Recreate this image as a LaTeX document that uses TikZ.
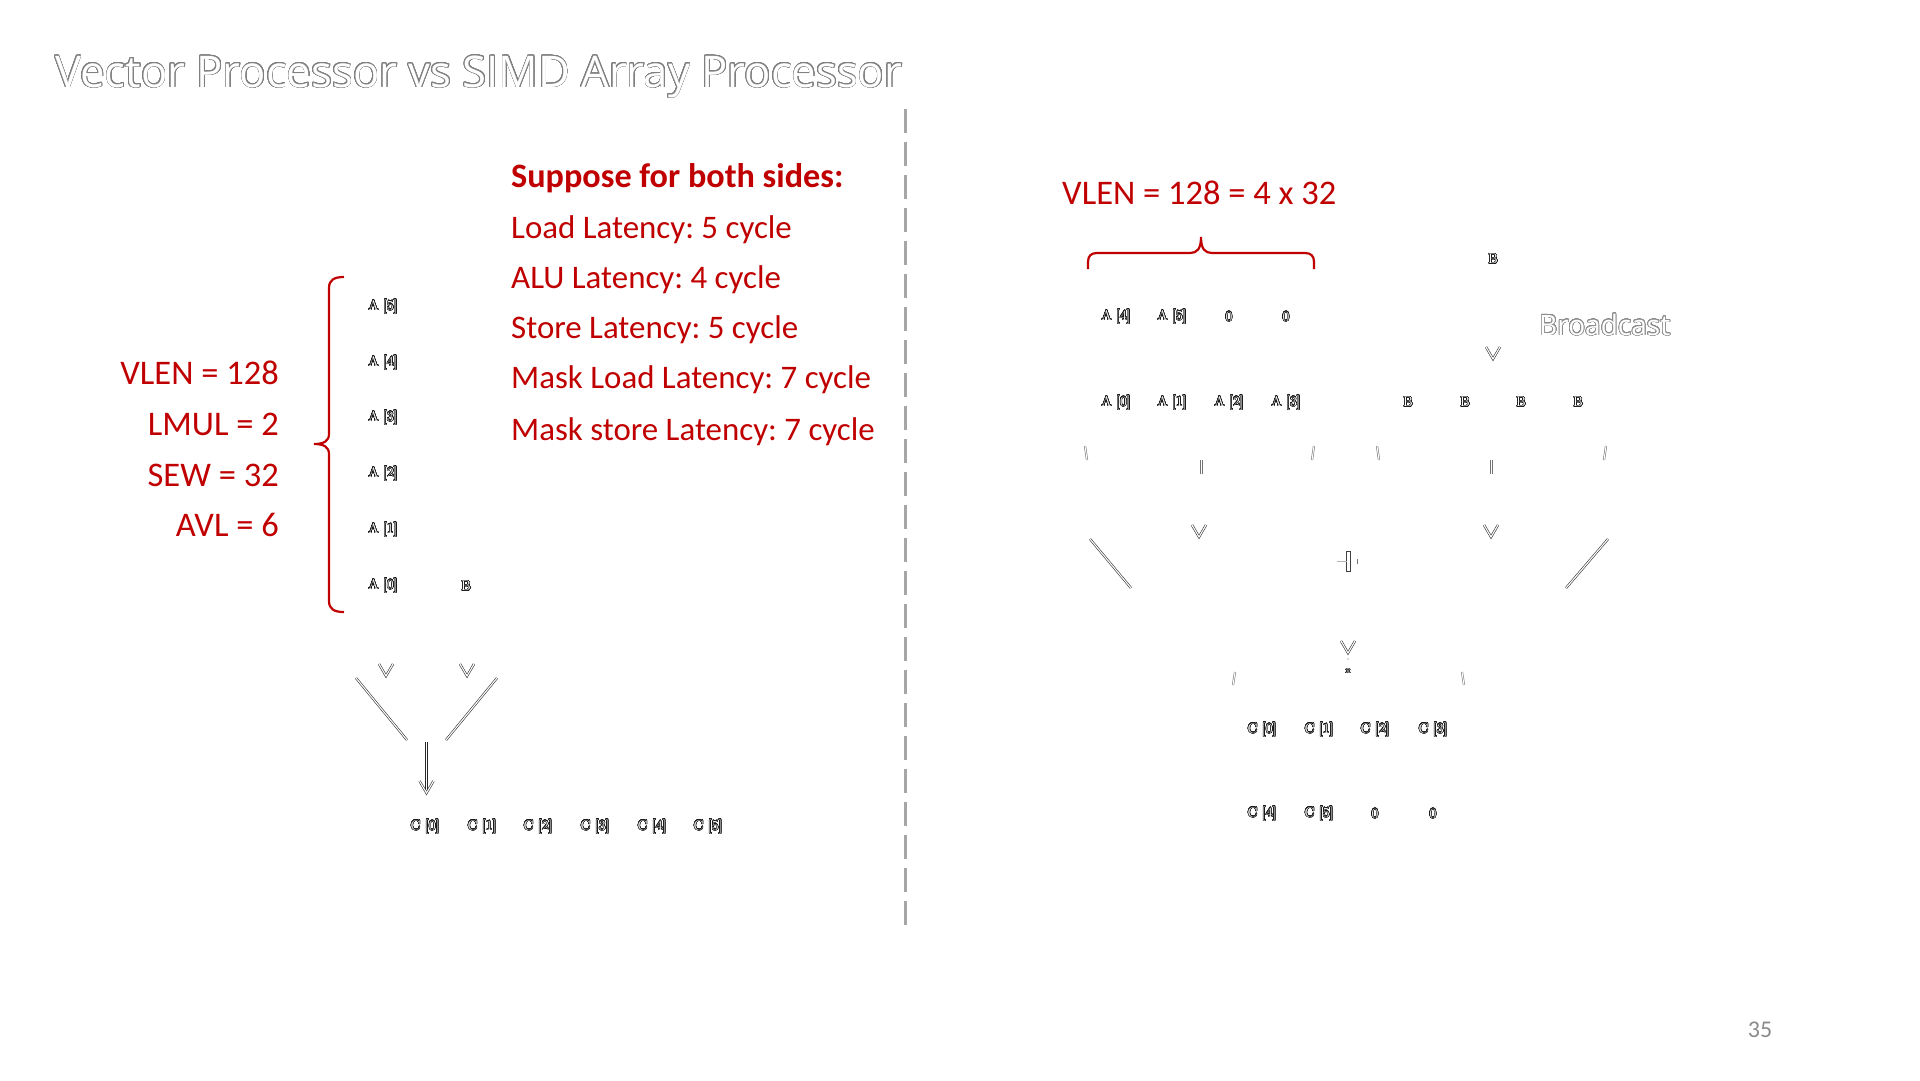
\documentclass[tikz,border=0pt]{standalone}
\usepackage{fontspec}
\usepackage{contour}
\contournumber{32}
\newfontfamily\carlito{Carlito}
\newfontfamily\osans{Open Sans}
\definecolor{dred}{HTML}{C00000}
\definecolor{dashgray}{HTML}{A6A6A6}
\definecolor{titlegray}{HTML}{808080}
\definecolor{pagegray}{HTML}{8C8C8C}
\newcommand\celltxt[1]{\contourlength{0.5pt}\contour{black!90}{#1}}
\newcommand\bigoutline[2]{\contourlength{0.75pt}\contour{#1}{#2}}
\frenchspacing
\begin{document}
\begin{tikzpicture}[x=1pt,y=-1pt,
  redt/.style={text=dred, font=\carlito\fontsize{32.9}{40}\selectfont, inner sep=0pt, anchor=base west},
  redr/.style={text=dred, font=\carlito\fontsize{34.5}{40}\selectfont, inner sep=0pt, anchor=base east},
  cell/.style={text=white, font=\fontsize{14}{16}\selectfont, inner sep=0pt},
  ol/.style={draw=black!80, double=white, double distance=1.1pt, line width=0.6pt, line join=miter},
  olg/.style={draw=black!55, double=white, double distance=1pt, line width=0.55pt},
  brace/.style={draw=dred, line width=2.2pt},
]
\useasboundingbox (0,0) rectangle (1920,1080);
\fill[white] (0,0) rectangle (1920,1080);

% title
\node[text=white, anchor=west, inner sep=0pt, font=\osans\fontsize{44}{50}\selectfont] (title) at (55,77)
  {\bigoutline{titlegray}{\resizebox{847pt}{!}{Vector Processor vs SIMD Array Processor}}};

% divider
\coordinate (dtop) at (905,109);
\coordinate (dbot) at (905,925);
\draw[draw=dashgray, line width=3pt, dash pattern=on 24pt off 9pt] (dtop) -- (dbot);

% left parameters
\node[redr] (vlen) at (279,384) {VLEN = 128};
\node[redr] (lmul) at (279,435) {LMUL = 2};
\node[redr] (sew)  at (279,486) {SEW = 32};
\node[redr] (avl)  at (279,536) {AVL = 6};

% latency list
\node[redt, font=\carlito\bfseries\fontsize{34.2}{40}\selectfont] (sup) at (511,187) {Suppose for both sides:};
\node[redt] (l1) at (511,238) {Load Latency: 5 cycle};
\node[redt] (l2) at (511,288) {ALU Latency: 4 cycle};
\node[redt] (l3) at (511,338) {Store Latency: 5 cycle};
\node[redt] (l4) at (511,388) {Mask Load Latency: 7 cycle};
\node[redt] (l5) at (511,440) {Mask store Latency: 7 cycle};

% left brace
\draw[brace] (344,277) .. controls (334,277) and (329,280) .. (329,288) -- (329,434)
  .. controls (329,441) and (324,444) .. (314,444)
  .. controls (324,444) and (329,447) .. (329,454) -- (329,601)
  .. controls (329,609) and (334,612) .. (344,612);

% left A column
\node[cell] (la5) at (383,307) {\celltxt{A [5]}};
\node[cell] (la4) at (383,363) {\celltxt{A [4]}};
\node[cell] (la3) at (383,418) {\celltxt{A [3]}};
\node[cell] (la2) at (383,474) {\celltxt{A [2]}};
\node[cell] (la1) at (383,530) {\celltxt{A [1]}};
\node[cell] (la0) at (383,586) {\celltxt{A [0]}};
\node[cell] (lb)  at (466,586) {\celltxt{B}};

% left operator residue
\draw[ol] (379,664) -- (386,676) -- (393,664);
\draw[ol] (460,664) -- (467,676) -- (474,664);
\coordinate (ld1a) at (356,678); \coordinate (ld1b) at (407,740);
\coordinate (ld2a) at (497,678); \coordinate (ld2b) at (446,740);
\draw[ol] (ld1a) -- (ld1b);
\draw[ol] (ld2a) -- (ld2b);
\coordinate (arrtop) at (426.5,742); \coordinate (arrtip) at (426.5,793);
\draw[draw=black!85, double=white, double distance=1.2pt, line width=0.8pt] (arrtop) -- (arrtip);
\draw[ol] (419.5,781) -- (arrtip) -- (433.5,781);

% left C row
\node[cell] (lc0) at (425,827) {\celltxt{C [0]}};
\node[cell] (lc1) at (482,827) {\celltxt{C [1]}};
\node[cell] (lc2) at (538,827) {\celltxt{C [2]}};
\node[cell] (lc3) at (595,827) {\celltxt{C [3]}};
\node[cell] (lc4) at (652,827) {\celltxt{C [4]}};
\node[cell] (lc5) at (708,827) {\celltxt{C [5]}};

% right side
\node[redt, font=\carlito\fontsize{34.5}{40}\selectfont] (rvlen) at (1062,204) {VLEN = 128 = 4 x 32};
\draw[brace] (1088,269) -- (1088,262) .. controls (1088,256) and (1091,253) .. (1097,253) -- (1190,253)
  .. controls (1197,253) and (1201,249) .. (1201,237)
  .. controls (1201,249) and (1205,253) .. (1212,253) -- (1305,253)
  .. controls (1311,253) and (1314,256) .. (1314,262) -- (1314,269);

\node[cell] (ra4) at (1116,317) {\celltxt{A [4]}};
\node[cell] (ra5) at (1172,317) {\celltxt{A [5]}};
\node[cell] (rz1) at (1229,317) {\celltxt{0}};
\node[cell] (rz2) at (1286,317) {\celltxt{0}};
\node[cell] (ra0) at (1116,403) {\celltxt{A [0]}};
\node[cell] (ra1) at (1172,403) {\celltxt{A [1]}};
\node[cell] (ra2) at (1229,403) {\celltxt{A [2]}};
\node[cell] (ra3) at (1286,403) {\celltxt{A [3]}};

\node[cell] (rbtop) at (1493,259) {\celltxt{B}};
\node[text=white, anchor=west, inner sep=0pt, font=\osans\fontsize{29}{34}\selectfont] (bcast) at (1539,325)
  {\bigoutline{black!45}{\resizebox{131pt}{!}{Broadcast}}};
\draw[ol] (1486,347) -- (1493,359) -- (1500,347);
\node[cell] (rb0) at (1408,402) {\celltxt{B}};
\node[cell] (rb1) at (1465,402) {\celltxt{B}};
\node[cell] (rb2) at (1521,402) {\celltxt{B}};
\node[cell] (rb3) at (1578,402) {\celltxt{B}};

% small residue marks
\draw[olg] (1085,446) -- (1087,460);
\draw[olg] (1314,446) -- (1312,460);
\draw[olg] (1377,446) -- (1379,460);
\draw[olg] (1606,446) -- (1604,460);
\draw[olg] (1201.5,460) -- (1201.5,474);
\draw[olg] (1491.5,460) -- (1491.5,474);

% right operator residue
\draw[ol] (1192,525) -- (1199,537) -- (1206,525);
\draw[ol] (1484,525) -- (1491,537) -- (1498,525);
\coordinate (rd1a) at (1090,539); \coordinate (rd1b) at (1131,588);
\coordinate (rd2a) at (1608,539); \coordinate (rd2b) at (1566,588);
\draw[ol] (rd1a) -- (rd1b);
\draw[ol] (rd2a) -- (rd2b);
\draw[draw=black!75, line width=0.6pt] (1346.5,551) rectangle (1350.5,571);
\draw[draw=black!30, line width=0.5pt] (1337,561) -- (1346.5,561);
\draw[draw=black!55, line width=0.5pt] (1357.5,559) -- (1357.5,564);
\draw[ol] (1341,641) -- (1348,653) -- (1355,641);
\fill[black!60] (1348,659) circle (0.7);
\node[cell, font=\fontsize{8}{9}\selectfont] (rx) at (1348,672) {\celltxt{x}};
\draw[olg] (1235,672) -- (1233,685);
\draw[olg] (1462,672) -- (1464,685);

% right C rows
\node[cell] (rc0) at (1262,730) {\celltxt{C [0]}};
\node[cell] (rc1) at (1319,730) {\celltxt{C [1]}};
\node[cell] (rc2) at (1375,730) {\celltxt{C [2]}};
\node[cell] (rc3) at (1433,730) {\celltxt{C [3]}};
\node[cell] (rc4) at (1262,814) {\celltxt{C [4]}};
\node[cell] (rc5) at (1319,814) {\celltxt{C [5]}};
\node[cell] (rc6) at (1375,814) {\celltxt{0}};
\node[cell] (rc7) at (1433,814) {\celltxt{0}};

% page number
\node[text=pagegray, font=\carlito\fontsize{24}{28}\selectfont, inner sep=0pt] (page) at (1760,1030) {35};
\end{tikzpicture}
\end{document}
